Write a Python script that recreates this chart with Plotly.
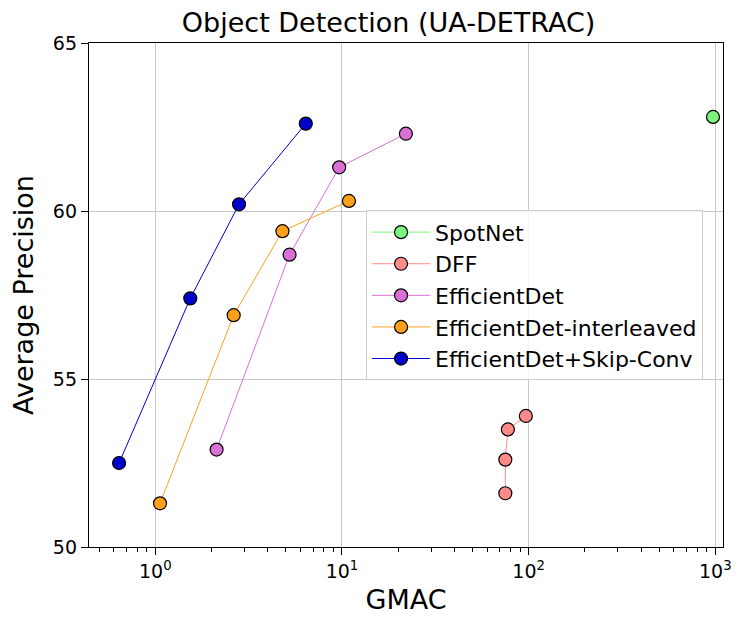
import plotly.graph_objects as go

# values (GMAC on log x, AP on y)
spotnet_gmac = [972]
spotnet_ap = [62.8]

dff_gmac = [75, 75, 77.4, 96.6]
dff_ap = [51.6, 52.6, 53.5, 53.9]

effdet_gmac = [2.13, 5.24, 9.66, 22.0]
effdet_ap = [52.9, 58.7, 61.3, 62.3]

interleaved_gmac = [1.06, 2.63, 4.8, 10.9]
interleaved_ap = [51.3, 56.9, 59.4, 60.3]

skipconv_gmac = [0.64, 1.54, 2.81, 6.4]
skipconv_ap = [52.5, 57.4, 60.2, 62.6]

major_x = [1, 10, 100, 1000]
major_x_text = ["10<sup>0</sup>", "10<sup>1</sup>", "10<sup>2</sup>", "10<sup>3</sup>"]
minor_x = [m * d for d in (0.1, 1, 10, 100) for m in range(2, 10)]
y_ticks = [50, 55, 60, 65]

series = [
    ("SpotNet", spotnet_gmac, spotnet_ap, "#7CF57C"),
    ("DFF", dff_gmac, dff_ap, "#FF8A8A"),
    ("EfficientDet", effdet_gmac, effdet_ap, "#DA70D6"),
    ("EfficientDet-interleaved", interleaved_gmac, interleaved_ap, "#FFA01C"),
    ("EfficientDet+Skip-Conv", skipconv_gmac, skipconv_ap, "#0000CD"),
]

fig = go.Figure()
for name, xs, ys, col in series:
    fig.add_trace(go.Scatter(
        x=xs, y=ys, name=name, mode="lines+markers",
        line=dict(color=col, width=1),
        marker=dict(color=col, size=13, line=dict(color="black", width=1.2)),
    ))

# page body has an 8px margin, so the figure is a bit smaller than the window
fig.update_layout(
    width=739, height=618,
    margin=dict(l=76, r=24, t=35, b=79),
    plot_bgcolor="white", paper_bgcolor="white",
    font=dict(family="DejaVu Sans", color="black"),
    title=dict(text="Object Detection (UA-DETRAC)", x=0.515, xanchor="center",
               y=0.977, yanchor="middle", font=dict(size=27)),
    legend=dict(x=0.437, y=0.668, xanchor="left", yanchor="top",
                bgcolor="rgba(255,255,255,0.8)", bordercolor="#cccccc", borderwidth=1,
                font=dict(size=22), itemwidth=58, tracegroupgap=0),
)
fig.update_xaxes(
    type="log", range=[-0.355, 3.041],
    tickvals=major_x, ticktext=major_x_text,
    ticks="outside", ticklen=7, tickcolor="black", tickfont=dict(size=19),
    minor=dict(tickvals=minor_x, ticks="outside", ticklen=4, tickcolor="black", showgrid=False),
    showgrid=True, gridcolor="#c8c8c8", gridwidth=1,
    showline=True, linecolor="black", linewidth=1.3, mirror=True,
    title=dict(text="GMAC", font=dict(size=27), standoff=9),
    zeroline=False,
)
fig.update_yaxes(
    range=[50, 65], tickvals=y_ticks,
    ticks="outside", ticklen=7, tickcolor="black", tickfont=dict(size=19),
    showgrid=True, gridcolor="#c8c8c8", gridwidth=1,
    showline=True, linecolor="black", linewidth=1.3, mirror=True,
    title=dict(text="Average Precision", font=dict(size=27), standoff=14),
    zeroline=False,
)

fig.write_html("out.html")
